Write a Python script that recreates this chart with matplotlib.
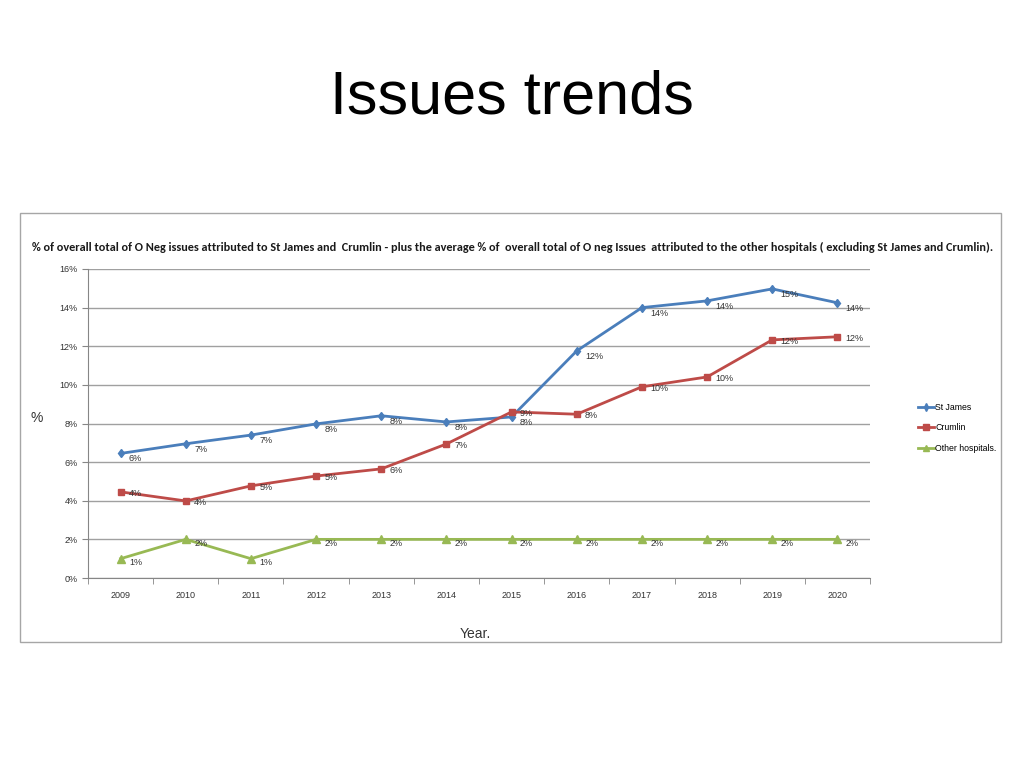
import matplotlib
matplotlib.use("Agg")
import matplotlib.pyplot as plt
from matplotlib.patches import Rectangle
from matplotlib.ticker import FuncFormatter, FixedLocator

years = [2009, 2010, 2011, 2012, 2013, 2014, 2015, 2016, 2017, 2018, 2019, 2020]
st_james = [6.45, 6.95, 7.4, 7.98, 8.4, 8.08, 8.34, 11.76, 14.0, 14.35, 14.97, 14.25]
crumlin = [4.46, 3.99, 4.77, 5.28, 5.65, 6.94, 8.6, 8.48, 9.9, 10.41, 12.33, 12.49]
other = [1, 2, 1, 2, 2, 2, 2, 2, 2, 2, 2, 2]

series = [
    ("St James", st_james, "#4A7EBB", "d", 4.5, -4),
    ("Crumlin", crumlin, "#BE4B48", "s", 5, -1),
    ("Other hospitals.", other, "#98B954", "^", 6, -3),
]

plt.rcParams["font.family"] = ["Liberation Sans", "DejaVu Sans"]

fig = plt.figure(figsize=(10.24, 7.68), dpi=100)
fig.patch.set_facecolor("white")

fig.text(0.5, 1 - 98 / 768, "Issues trends", ha="center", va="center",
         fontsize=44, color="black")

# chart frame
fig.patches.append(Rectangle((20 / 1024, 1 - 642 / 768), 981 / 1024, 429 / 768,
                             transform=fig.transFigure, fill=False,
                             edgecolor="#a6a6a6", linewidth=1))

fig.text(513 / 1024, 1 - 247 / 768,
         "% of overall total of O Neg issues attributed to St James and  Crumlin - plus the average % of  "
         "overall total of O neg Issues  attributed to the other hospitals ( excluding St James and Crumlin).",
         ha="center", va="center", fontsize=8.8, fontweight="bold", color="#1a1a1a",
         family=["Carlito", "Lato", "DejaVu Sans"])

ax = fig.add_axes([88 / 1024, 1 - 578 / 768, 782 / 1024, 309 / 768])
x = list(range(len(years)))

for name, vals, color, marker, ms, dy in series:
    ax.plot(x, vals, color=color, linewidth=2.0, marker=marker, markersize=ms,
            label=name, zorder=3)
    for xi, v in zip(x, vals):
        ax.annotate(f"{v:.0f}%", (xi, v), xytext=(6, dy), textcoords="offset points",
                    fontsize=6.5, color="#333333", va="center", ha="left", zorder=4)

ax.set_xlim(-0.5, len(years) - 0.5)
ax.set_ylim(0, 16)
ax.set_yticks(range(0, 17, 2))
ax.yaxis.set_major_formatter(FuncFormatter(lambda v, p: f"{v:.0f}%"))
ax.set_xticks(x)
ax.set_xticklabels([str(y) for y in years])
ax.xaxis.set_minor_locator(FixedLocator([i - 0.5 for i in range(len(years) + 1)]))
ax.tick_params(axis="x", which="major", length=0, labelsize=6.5, pad=9, colors="#333333")
ax.tick_params(axis="x", which="minor", length=4, color="#868686")
ax.tick_params(axis="y", length=4, labelsize=6.5, colors="#333333", color="#868686")

ax.grid(axis="y", color="#a0a0a0", linewidth=1)
ax.set_axisbelow(True)
for side in ["top", "right"]:
    ax.spines[side].set_visible(False)
for side in ["left", "bottom"]:
    ax.spines[side].set_color("#868686")

fig.text(37 / 1024, 1 - 418 / 768, "%", ha="center", va="center", fontsize=10, color="#333333")
fig.text(475 / 1024, 1 - 634 / 768, "Year.", ha="center", va="center", fontsize=10, color="#333333")

ax.legend(loc="center left", bbox_to_anchor=(910 / 1024, 1 - 428 / 768),
          bbox_transform=fig.transFigure, frameon=False, fontsize=6.3,
          handlelength=1.8, labelspacing=1.3, handletextpad=0.2, markerscale=0.8)

fig.savefig("out.png", dpi=100, facecolor="white")
